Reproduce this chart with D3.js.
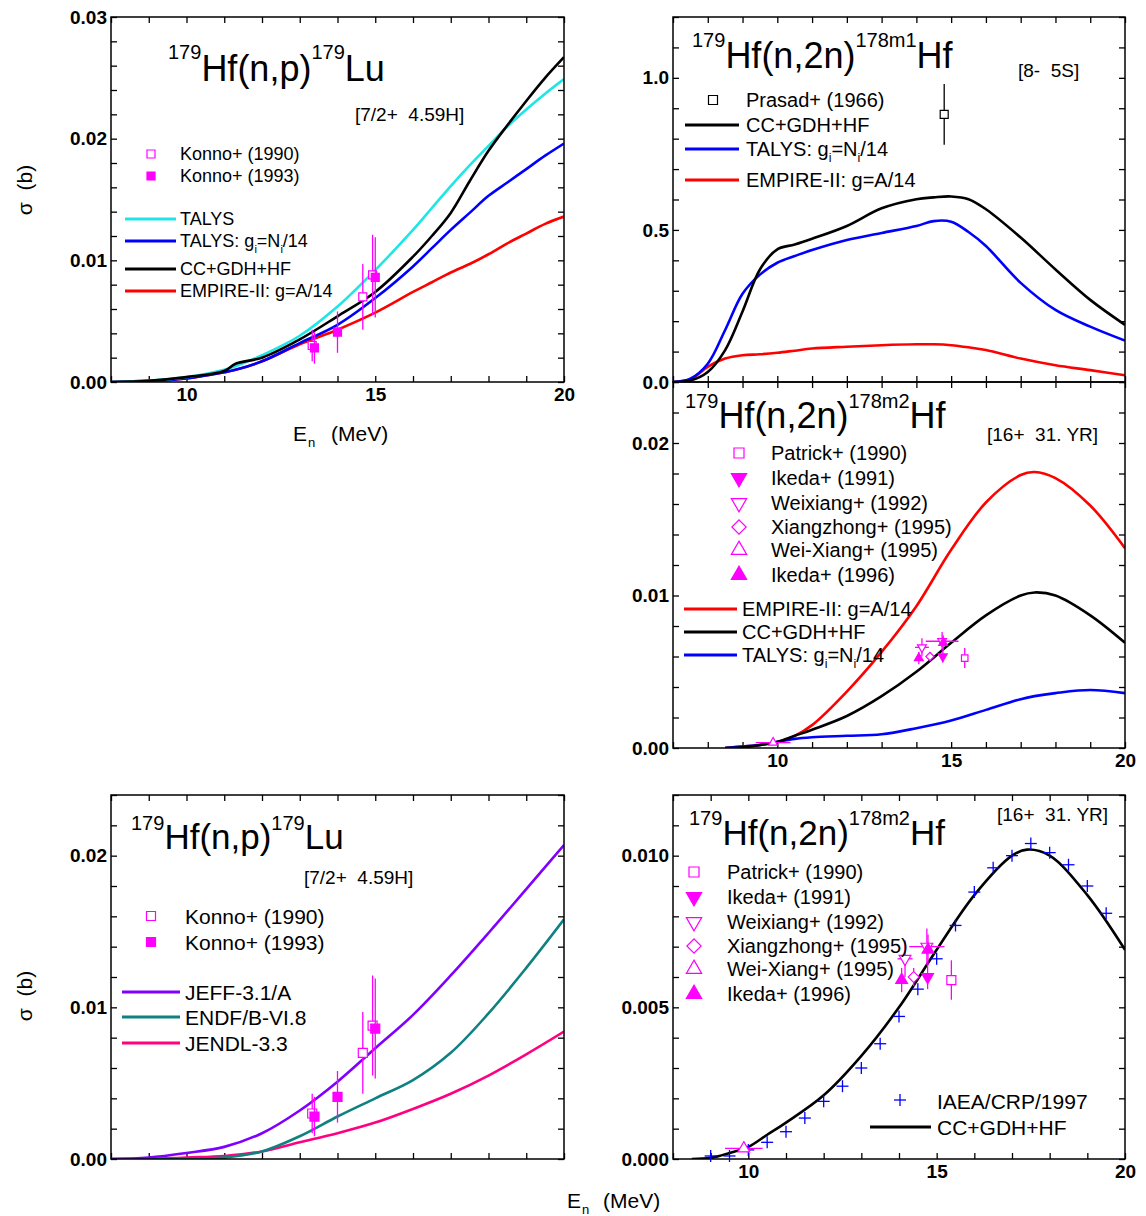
<!DOCTYPE html>
<html>
<head>
<meta charset="utf-8">
<script src="https://cdn.jsdelivr.net/npm/d3@7"></script>
<style>
  body { margin: 0; background: #fff; }
  text { font-family: "Liberation Sans", Arial, sans-serif; fill: #000; }
</style>
</head>
<body>
<script>
// ---- 179Hf(n,p)179Lu : model calculations (barn) ----
var npE = [8, 9, 10, 11, 11.3, 12, 13, 14, 15, 16, 16.5, 17, 17.5, 18, 18.5, 19, 19.5, 20];
var npTalys   = [0, 0.0001, 0.0004, 0.0010, 0.0013, 0.0022, 0.0038, 0.0062, 0.0092, 0.0125, 0.0143, 0.0161, 0.0178, 0.0194, 0.0210, 0.0224, 0.0237, 0.0249];
var npTalysGi = [0, 0.0001, 0.0003, 0.0008, 0.0010, 0.0017, 0.0032, 0.0047, 0.0069, 0.0095, 0.0110, 0.0125, 0.0139, 0.0153, 0.0164, 0.0175, 0.0186, 0.0196];
var npCC      = [0, 0.0001, 0.0004, 0.0009, 0.0015, 0.0020, 0.0035, 0.0054, 0.0074, 0.0103, 0.0120, 0.0139, 0.0165, 0.0190, 0.0211, 0.0231, 0.0250, 0.0267];
var npEmpire  = [0, 0.0001, 0.0003, 0.0008, 0.0010, 0.0017, 0.0031, 0.0043, 0.0057, 0.0074, 0.0082, 0.0090, 0.0097, 0.0105, 0.0114, 0.0122, 0.0130, 0.0136];

// evaluated libraries
var libE  = [8, 9, 10, 11, 12, 13, 14, 15, 16, 17, 18, 19, 20];
var jeff  = [0, 0.0001, 0.0004, 0.0008, 0.0017, 0.0032, 0.0051, 0.0073, 0.0095, 0.0121, 0.0149, 0.0178, 0.0207];
var endf  = [0, 0, 0.00003, 0.0001, 0.0005, 0.0015, 0.0028, 0.0040, 0.0052, 0.0070, 0.0096, 0.0126, 0.0158];
var jendl = [0, 0, 0.0001, 0.0002, 0.0005, 0.0011, 0.0017, 0.0024, 0.0033, 0.0043, 0.0055, 0.0069, 0.0084];

// ---- 179Hf(n,2n)178m1Hf ----
var m1E      = [7, 7.5, 8, 8.5, 9, 9.5, 10, 10.5, 11, 12, 13, 14, 14.5, 15, 15.5, 16, 17, 18, 19, 20];
var m1CC     = [0, 0.005, 0.033, 0.105, 0.232, 0.37, 0.436, 0.452, 0.471, 0.513, 0.571, 0.601, 0.607, 0.610, 0.601, 0.568, 0.475, 0.37, 0.27, 0.188];
var m1Talys  = [0, 0.011, 0.06, 0.171, 0.29, 0.353, 0.392, 0.414, 0.434, 0.467, 0.49, 0.513, 0.529, 0.527, 0.493, 0.447, 0.326, 0.237, 0.182, 0.136];
var m1Empire = [0, 0.009, 0.05, 0.077, 0.088, 0.091, 0.096, 0.103, 0.110, 0.116, 0.121, 0.124, 0.124, 0.121, 0.114, 0.105, 0.077, 0.055, 0.039, 0.022];

// ---- 179Hf(n,2n)178m2Hf ----
var m2E      = [8.5, 9, 9.5, 10, 10.5, 11, 12, 13, 14, 15, 16, 17, 17.4, 18, 19, 20];
var m2Empire = [0, 0.0001, 0.0002, 0.0004, 0.0008, 0.0015, 0.0037, 0.0063, 0.0093, 0.0130, 0.0161, 0.0179, 0.0181, 0.0177, 0.0159, 0.0131];
var m2CC     = [0, 0.00004, 0.0002, 0.0004, 0.0008, 0.0012, 0.0021, 0.0034, 0.0050, 0.0069, 0.0087, 0.0100, 0.0102, 0.0100, 0.0087, 0.0069];
var m2Talys  = [0, 0.0001, 0.0002, 0.0004, 0.0006, 0.0007, 0.0008, 0.0009, 0.0013, 0.0018, 0.0025, 0.0032, 0.0034, 0.0036, 0.0038, 0.0036];
var iaeaE = [9, 9.5, 10, 10.5, 11, 11.5, 12, 12.5, 13, 13.5, 14, 14.5, 15, 15.5, 16, 16.5, 17, 17.5, 18, 18.5, 19, 19.5];
var iaeaS = [0.0001, 0.0001, 0.0003, 0.00055, 0.0009, 0.00135, 0.0019, 0.0024, 0.0030, 0.0038, 0.0047, 0.0056, 0.0066, 0.0077, 0.0088, 0.0096, 0.0100, 0.0104, 0.0101, 0.0097, 0.0090, 0.0081];

// ---- measurements: [E, sigma, dSigma, dE] ----
var konno1990 = [[13.33, 0.0030, 0.0013, 0], [14.67, 0.0070, 0.0027, 0], [14.93, 0.0088, 0.0033, 0]];
var konno1993 = [[13.39, 0.0028, 0.0013, 0], [14.0, 0.0041, 0.0017, 0], [15.0, 0.0086, 0.0033, 0]];
var prasad1966 = [[14.8, 0.88, 0.10, 0]];
var patrick1990 = [[15.39, 0.0059, 0.00065, 0]];
var ikeda1991 = [[14.76, 0.0060, 0.0004, 0]];
var weixiang1992 = [[14.16, 0.0066, 0.0006, 0.2], [14.74, 0.0070, 0.0006, 0.47]];
var xiangzhong1995 = [[14.39, 0.0060, 0.0003, 0]];
var weixiang1995 = [[9.88, 0.00035, 0.0001, 0.5]];
var ikeda1996 = [[14.07, 0.0059, 0.0004, 0], [14.77, 0.0069, 0.0005, 0]];

var MAG = "#ff00ff";

var svg = d3.select("body")
    .append("svg")
    .attr("width", 1146)
    .attr("height", 1216);

svg.append("rect").attr("width", 1146).attr("height", 1216).attr("fill", "#fff");

function zip(xs, ys) {
    return xs.map(function (e, i) { return [e, ys[i]]; });
}

function makePanel(o) {
    var x = d3.scaleLinear().domain(o.xd).range([o.l, o.r]);
    var y = d3.scaleLinear().domain(o.yd).range([o.b, o.t]);
    var g = svg.append("g");

    g.append("clipPath").attr("id", "clip" + o.id)
        .append("rect")
        .attr("x", o.l).attr("y", o.t)
        .attr("width", o.r - o.l).attr("height", o.b - o.t);

    var xt = d3.range(o.xd[0], o.xd[1] + 0.5, 1);
    var yt = d3.range(0, Math.round(o.yd[1] / o.ystep) + 1).map(function (i) { return i * o.ystep; });

    // inward ticks on all four sides
    [
        [d3.axisBottom(x).tickValues(xt), "translate(0," + o.b + ")"],
        [d3.axisTop(x).tickValues(xt), "translate(0," + o.t + ")"],
        [d3.axisLeft(y).tickValues(yt), "translate(" + o.l + ",0)"],
        [d3.axisRight(y).tickValues(yt), "translate(" + o.r + ",0)"]
    ].forEach(function (a) {
        var ag = g.append("g").attr("transform", a[1])
            .call(a[0].tickSize(-6).tickFormat(""));
        ag.select(".domain").remove();
        ag.selectAll("line").attr("stroke", "#000").attr("stroke-width", 1.3);
    });

    // tick labels
    var yl = g.append("g").attr("transform", "translate(" + o.l + ",0)")
        .call(d3.axisLeft(y).tickValues(o.ylab).tickSize(0).tickPadding(4).tickFormat(d3.format(o.yfmt)));
    yl.select(".domain").remove();
    yl.selectAll("text")
        .attr("font-size", 19).attr("font-weight", "bold")
        .attr("font-family", "Liberation Sans, Arial, sans-serif").attr("fill", "#000");

    if (o.xlab.length) {
        var xl = g.append("g").attr("transform", "translate(0," + o.b + ")")
            .call(d3.axisBottom(x).tickValues(o.xlab).tickSize(0).tickPadding(6).tickFormat(d3.format("d")));
        xl.select(".domain").remove();
        xl.selectAll("text")
            .attr("font-size", 19).attr("font-weight", "bold")
            .attr("font-family", "Liberation Sans, Arial, sans-serif").attr("fill", "#000");
    }

    var plot = g.append("g").attr("clip-path", "url(#clip" + o.id + ")");

    g.append("rect")
        .attr("x", o.l).attr("y", o.t)
        .attr("width", o.r - o.l).attr("height", o.b - o.t)
        .attr("fill", "none").attr("stroke", "#000").attr("stroke-width", 1.5);

    return { g: g, plot: plot, x: x, y: y };
}

function curve(p, xs, ys, color) {
    var line = d3.line()
        .x(function (d) { return p.x(d[0]); })
        .y(function (d) { return p.y(d[1]); })
        .curve(d3.curveCatmullRom.alpha(0.5));
    p.plot.append("path")
        .datum(zip(xs, ys))
        .attr("d", line)
        .attr("fill", "none")
        .attr("stroke", color)
        .attr("stroke-width", 2.6);
}

function symbolPath(type, size) {
    if (type === "square") return d3.symbol().type(d3.symbolSquare).size(size * size)();
    if (type === "diamond") return d3.symbol().type(d3.symbolSquare).size(size * size * 0.6)();
    return d3.symbol().type(d3.symbolTriangle).size(size * size * 0.6)();
}

function symbolRotate(type) {
    if (type === "down") return 180;
    if (type === "diamond") return 45;
    return 0;
}

function drawMarker(g, cx, cy, type, size, color, filled, lw) {
    g.append("path")
        .attr("d", symbolPath(type, size))
        .attr("transform", "translate(" + cx + "," + cy + ") rotate(" + symbolRotate(type) + ")")
        .attr("fill", filled ? color : "#fff")
        .attr("stroke", color)
        .attr("stroke-width", lw || 1.2);
}

function points(p, data, type, size, color, filled) {
    var eg = p.g.append("g").attr("stroke", color).attr("stroke-width", 1.3);
    data.forEach(function (d) {
        var cx = p.x(d[0]), cy = p.y(d[1]);
        if (d[2]) {
            eg.append("line").attr("x1", cx).attr("x2", cx)
                .attr("y1", p.y(d[1] - d[2])).attr("y2", p.y(d[1] + d[2]));
        }
        if (d[3]) {
            eg.append("line").attr("y1", cy).attr("y2", cy)
                .attr("x1", p.x(d[0] - d[3])).attr("x2", p.x(d[0] + d[3]));
        }
    });
    data.forEach(function (d) {
        drawMarker(p.g, p.x(d[0]), p.y(d[1]), type, size, color, filled);
    });
}

function crosses(p, xs, ys, color) {
    var cg = p.g.append("g").attr("stroke", color).attr("stroke-width", 1.3);
    zip(xs, ys).forEach(function (d) {
        var cx = p.x(d[0]), cy = p.y(d[1]);
        cg.append("line").attr("x1", cx - 6).attr("x2", cx + 6).attr("y1", cy).attr("y2", cy);
        cg.append("line").attr("x1", cx).attr("x2", cx).attr("y1", cy - 6).attr("y2", cy + 6);
    });
}

// text with mixed sizes / sub- and superscripts: parts = [text, fontSize, offsetFromBaseline]
function rich(g, x, y, parts) {
    var t = g.append("text").attr("x", x).attr("y", y).style("white-space", "pre");
    var prev = 0;
    parts.forEach(function (s) {
        t.append("tspan").attr("font-size", s[1]).attr("dy", s[2] - prev).text(s[0]);
        prev = s[2];
    });
    return t;
}

function title(g, x, y, big, sup, raise, parts) {
    rich(g, x, y, parts.map(function (s) {
        return s[1] ? [s[0], sup, -raise] : [s[0], big, 0];
    }));
}

function legLine(g, x1, x2, y, color) {
    g.append("line").attr("x1", x1).attr("x2", x2).attr("y1", y).attr("y2", y)
        .attr("stroke", color).attr("stroke-width", 2.8);
}

function legText(g, x, y, size, txt) {
    if (typeof txt === "string") txt = [[txt, 0]];
    rich(g, x, y + size * 0.36, txt.map(function (s) {
        return s[1] ? [s[0], size * 0.62, size * 0.3] : [s[0], size, 0];
    }));
}

function talysGi(prefix) {
    return [[prefix + "g", 0], ["i", 1], ["=N", 0], ["i", 1], ["/14", 0]];
}

// ================= Panel 1: (n,p) models =================
var p1 = makePanel({ id: 1, l: 111, r: 564, t: 17, b: 382, xd: [8, 20], yd: [0, 0.03], ystep: 0.002,
    ylab: [0, 0.01, 0.02, 0.03], yfmt: ".2f", xlab: [10, 15, 20] });
curve(p1, npE, npEmpire, "#ff0000");
curve(p1, npE, npTalysGi, "#0000ff");
curve(p1, npE, npTalys, "#1ee6e6");
curve(p1, npE, npCC, "#000000");
points(p1, konno1990, "square", 8, MAG, false);
points(p1, konno1993, "square", 8, MAG, true);

title(p1.g, 168, 81, 36, 20, 22, [["179", 1], ["Hf(n,p)", 0], ["179", 1], ["Lu", 0]]);
p1.g.append("text").attr("x", 355).attr("y", 121).attr("font-size", 19).style("white-space", "pre").text("[7/2+  4.59H]");
drawMarker(p1.g, 151, 154, "square", 8, MAG, false);
drawMarker(p1.g, 151, 176, "square", 8, MAG, true);
legText(p1.g, 180, 154, 18, "Konno+ (1990)");
legText(p1.g, 180, 176, 18, "Konno+ (1993)");
legLine(p1.g, 125, 176, 219, "#1ee6e6");
legLine(p1.g, 125, 176, 241, "#0000ff");
legLine(p1.g, 125, 176, 269, "#000000");
legLine(p1.g, 125, 176, 291, "#ff0000");
legText(p1.g, 180, 219, 18, "TALYS");
legText(p1.g, 180, 241, 18, talysGi("TALYS: "));
legText(p1.g, 180, 269, 18, "CC+GDH+HF");
legText(p1.g, 180, 291, 18, "EMPIRE-II: g=A/14");

svg.append("text").attr("transform", "translate(32,190) rotate(-90)")
    .attr("text-anchor", "middle").attr("font-size", 21).style("white-space", "pre").text("\u03c3  (b)");
svg.append("text").attr("x", 293).attr("y", 441).attr("font-size", 21).text("E");
svg.append("text").attr("x", 308).attr("y", 447).attr("font-size", 13).text("n");
svg.append("text").attr("x", 331).attr("y", 441).attr("font-size", 21).text("(MeV)");

// ================= Panel 2: (n,2n) m1 =================
var p2 = makePanel({ id: 2, l: 673, r: 1125, t: 17, b: 382, xd: [7, 20], yd: [0, 1.2], ystep: 0.1,
    ylab: [0, 0.5, 1.0], yfmt: ".1f", xlab: [] });
curve(p2, m1E, m1Empire, "#ff0000");
curve(p2, m1E, m1Talys, "#0000ff");
curve(p2, m1E, m1CC, "#000000");
points(p2, prasad1966, "square", 8, "#000000", false);

title(p2.g, 692, 68, 36, 20, 21, [["179", 1], ["Hf(n,2n)", 0], ["178m1", 1], ["Hf", 0]]);
p2.g.append("text").attr("x", 1018).attr("y", 77).attr("font-size", 19).style("white-space", "pre").text("[8-  5S]");
drawMarker(p2.g, 713, 100, "square", 9, "#000000", false);
legText(p2.g, 746, 100, 20, "Prasad+ (1966)");
legLine(p2.g, 685, 739, 125, "#000000");
legLine(p2.g, 685, 739, 149, "#0000ff");
legLine(p2.g, 685, 739, 180, "#ff0000");
legText(p2.g, 746, 125, 20, "CC+GDH+HF");
legText(p2.g, 746, 149, 20, talysGi("TALYS: "));
legText(p2.g, 746, 180, 20, "EMPIRE-II: g=A/14");

// ================= Panel 3: (n,2n) m2 models =================
var p3 = makePanel({ id: 3, l: 673, r: 1125, t: 382, b: 748, xd: [7, 20], yd: [0, 0.024], ystep: 0.002,
    ylab: [0, 0.01, 0.02], yfmt: ".2f", xlab: [10, 15, 20] });
curve(p3, m2E, m2Empire, "#ff0000");
curve(p3, m2E, m2Talys, "#0000ff");
curve(p3, m2E, m2CC, "#000000");

function m2Points(p, s) {
    points(p, weixiang1995, "up", s, MAG, false);
    points(p, weixiang1992, "down", s, MAG, false);
    points(p, ikeda1996, "up", s, MAG, true);
    points(p, xiangzhong1995, "diamond", s, MAG, false);
    points(p, ikeda1991, "down", s, MAG, true);
    points(p, patrick1990, "square", s - 1, MAG, false);
}
m2Points(p3, 7.5);

title(p3.g, 685, 428, 36, 20, 20, [["179", 1], ["Hf(n,2n)", 0], ["178m2", 1], ["Hf", 0]]);
p3.g.append("text").attr("x", 987).attr("y", 441).attr("font-size", 19).style("white-space", "pre").text("[16+  31. YR]");

function m2Legend(g, mx, tx, ys, size) {
    var lab = ["Patrick+ (1990)", "Ikeda+ (1991)", "Weixiang+ (1992)", "Xiangzhong+ (1995)", "Wei-Xiang+ (1995)", "Ikeda+ (1996)"];
    var typ = [["square", false], ["down", true], ["down", false], ["diamond", false], ["up", false], ["up", true]];
    lab.forEach(function (t, i) {
        drawMarker(g, mx, ys[i], typ[i][0], typ[i][0] === "square" ? 10 : 13, MAG, typ[i][1]);
        legText(g, tx, ys[i], size, t);
    });
}
m2Legend(p3.g, 739, 771, [453, 478, 503, 527, 550, 575], 20);
legLine(p3.g, 684, 737, 609, "#ff0000");
legLine(p3.g, 684, 737, 632, "#000000");
legLine(p3.g, 684, 737, 655, "#0000ff");
legText(p3.g, 742, 609, 20, "EMPIRE-II: g=A/14");
legText(p3.g, 742, 632, 20, "CC+GDH+HF");
legText(p3.g, 742, 655, 20, talysGi("TALYS: "));

// ================= Panel 4: (n,p) libraries =================
var p4 = makePanel({ id: 4, l: 111, r: 564, t: 795, b: 1159, xd: [8, 20], yd: [0, 0.024], ystep: 0.002,
    ylab: [0, 0.01, 0.02], yfmt: ".2f", xlab: [] });
curve(p4, libE, jendl, "#ff0080");
curve(p4, libE, endf, "#108080");
curve(p4, libE, jeff, "#8000ff");
points(p4, konno1990, "square", 9, MAG, false);
points(p4, konno1993, "square", 9, MAG, true);

title(p4.g, 131, 849, 35, 20, 19, [["179", 1], ["Hf(n,p)", 0], ["179", 1], ["Lu", 0]]);
p4.g.append("text").attr("x", 304).attr("y", 884).attr("font-size", 19).style("white-space", "pre").text("[7/2+  4.59H]");
drawMarker(p4.g, 151, 916, "square", 9, MAG, false);
drawMarker(p4.g, 151, 942, "square", 9, MAG, true);
legText(p4.g, 185, 916, 21, "Konno+ (1990)");
legText(p4.g, 185, 942, 21, "Konno+ (1993)");
legLine(p4.g, 122, 180, 992, "#8000ff");
legLine(p4.g, 122, 180, 1017, "#108080");
legLine(p4.g, 122, 180, 1043, "#ff0080");
legText(p4.g, 185, 992, 21, "JEFF-3.1/A");
legText(p4.g, 185, 1017, 21, "ENDF/B-VI.8");
legText(p4.g, 185, 1043, 21, "JENDL-3.3");

svg.append("text").attr("transform", "translate(32,996) rotate(-90)")
    .attr("text-anchor", "middle").attr("font-size", 21).style("white-space", "pre").text("\u03c3  (b)");

// ================= Panel 5: (n,2n) m2 vs IAEA =================
var p5 = makePanel({ id: 5, l: 673, r: 1125, t: 795, b: 1159, xd: [8, 20], yd: [0, 0.012], ystep: 0.001,
    ylab: [0, 0.005, 0.010], yfmt: ".3f", xlab: [10, 15, 20] });
crosses(p5, iaeaE, iaeaS, "#0000ff");
curve(p5, m2E, m2CC, "#000000");
m2Points(p5, 10);

title(p5.g, 689, 845, 35, 20, 20, [["179", 1], ["Hf(n,2n)", 0], ["178m2", 1], ["Hf", 0]]);
p5.g.append("text").attr("x", 997).attr("y", 821).attr("font-size", 19).style("white-space", "pre").text("[16+  31. YR]");
m2Legend(p5.g, 694, 727, [872, 897, 922, 946, 969, 994], 20);
p5.g.append("g").attr("stroke", "#0000ff").attr("stroke-width", 1.3).call(function (c) {
    c.append("line").attr("x1", 894).attr("x2", 906).attr("y1", 1100).attr("y2", 1100);
    c.append("line").attr("x1", 900).attr("x2", 900).attr("y1", 1094).attr("y2", 1106);
});
legText(p5.g, 937, 1101, 21, "IAEA/CRP/1997");
legLine(p5.g, 870, 931, 1127, "#000000");
legText(p5.g, 937, 1127, 21, "CC+GDH+HF");

svg.append("text").attr("x", 567).attr("y", 1208).attr("font-size", 21).text("E");
svg.append("text").attr("x", 582).attr("y", 1214).attr("font-size", 13).text("n");
svg.append("text").attr("x", 603).attr("y", 1208).attr("font-size", 21).text("(MeV)");
</script>
</body>
</html>
